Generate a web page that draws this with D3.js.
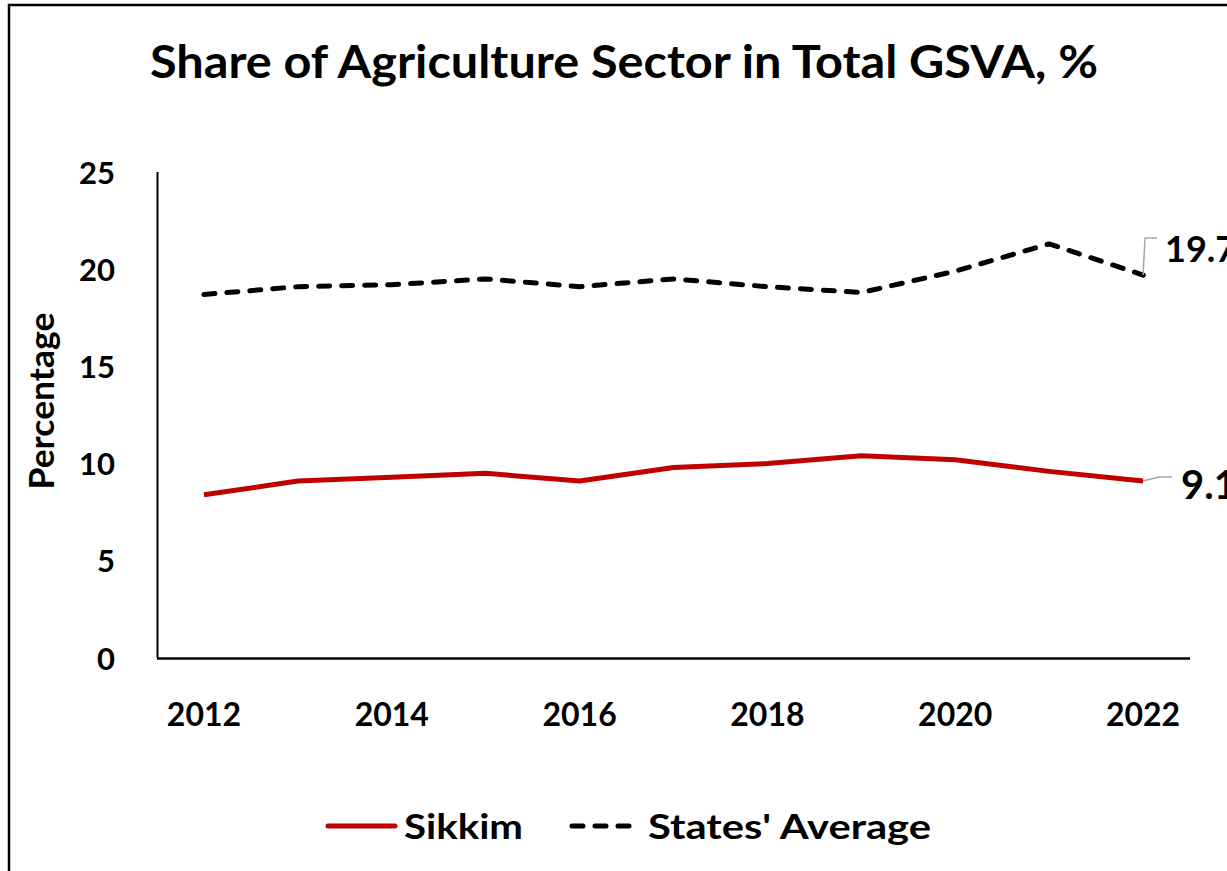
<!DOCTYPE html>
<html>
<head>
<meta charset="utf-8">
<script src="https://cdn.jsdelivr.net/npm/d3@7/dist/d3.min.js"></script>
<style>
  html, body { margin: 0; padding: 0; background: #fff; }
  svg text { font-family: Lato, "Open Sans", sans-serif; font-weight: 700; fill: #000; }
</style>
</head>
<body>
<svg id="chart" width="1227" height="871"></svg>
<script>
// Share of agriculture in total GSVA (%), 2012–2022
const years = [2012, 2013, 2014, 2015, 2016, 2017, 2018, 2019, 2020, 2021, 2022];
const sikkim = [8.4, 9.1, 9.3, 9.5, 9.1, 9.8, 10.0, 10.4, 10.2, 9.6, 9.1];
const statesAverage = [18.7, 19.1, 19.2, 19.5, 19.1, 19.5, 19.1, 18.8, 19.9, 21.3, 19.7];
const xTickLabels = [2012, 2014, 2016, 2018, 2020, 2022];
const yTickValues = [0, 5, 10, 15, 20, 25];
const seriesNames = ["Sikkim", "States' Average"];

const svg = d3.select("#chart");

// outer frame (left and top edges fall inside the view)
svg.append("rect")
  .attr("x", 9).attr("y", 5)
  .attr("width", 1400).attr("height", 1000)
  .attr("fill", "none").attr("stroke", "#000").attr("stroke-width", 2.5);

const plot = { left: 157, right: 1190, top: 172, bottom: 658 };

const x = d3.scaleBand().domain(years).range([plot.left, plot.right]);
const xc = d => x(d) + x.bandwidth() / 2;
const y = d3.scaleLinear().domain([0, 25]).range([plot.bottom, plot.top]);

// title
svg.append("text")
  .attr("x", 624).attr("y", 78)
  .attr("text-anchor", "middle")
  .style("font-size", "46px")
  .attr("textLength", 948).attr("lengthAdjust", "spacingAndGlyphs")
  .text("Share of Agriculture Sector in Total GSVA, %");

// y axis
const yAxis = svg.append("g")
  .attr("transform", `translate(${plot.left},0)`)
  .call(d3.axisLeft(y).tickValues(yTickValues).tickSize(0).tickPadding(42));
yAxis.select(".domain").attr("stroke", "#000").attr("stroke-width", 2).attr("d", `M0.5,${plot.top}V${plot.bottom}`);
yAxis.selectAll("text").style("font-size", "31px").style("font-family", "Lato").attr("dy", "0.36em");

// x axis
const xAxis = svg.append("g")
  .attr("transform", `translate(0,${plot.bottom})`)
  .call(d3.axisBottom(x).tickValues(xTickLabels).tickSize(0).tickPadding(45));
xAxis.select(".domain").attr("stroke", "#000").attr("stroke-width", 2.5).attr("d", `M${plot.left},0.5H${plot.right}`);
xAxis.selectAll("text").style("font-size", "32px").style("font-family", "Lato");

// y axis title
svg.append("text")
  .attr("transform", "translate(54,401) rotate(-90)")
  .attr("text-anchor", "middle")
  .style("font-size", "34px")
  .attr("textLength", 177).attr("lengthAdjust", "spacingAndGlyphs")
  .text("Percentage");

const line = d3.line()
  .x((d, i) => xc(years[i]))
  .y(d => y(d));

// States' average (dashed)
svg.append("path")
  .datum(statesAverage)
  .attr("d", line)
  .attr("fill", "none")
  .attr("stroke", "#000")
  .attr("stroke-width", 5)
  .attr("stroke-linecap", "round")
  .attr("stroke-linejoin", "round")
  .attr("stroke-dasharray", "11 12");

// Sikkim (solid red)
svg.append("path")
  .datum(sikkim)
  .attr("d", line)
  .attr("fill", "none")
  .attr("stroke", "#C00000")
  .attr("stroke-width", 5)
  .attr("stroke-linejoin", "round");

// end-point labels with leader lines
const lastYear = years[years.length - 1];
const lastAvg = statesAverage[statesAverage.length - 1];
const lastSik = sikkim[sikkim.length - 1];
const ex = xc(lastYear);

svg.append("circle").attr("cx", ex).attr("cy", y(lastAvg)).attr("r", 2.5).attr("fill", "#000");
svg.append("path")
  .attr("d", `M${ex},${y(lastAvg)} L${ex + 2},${y(lastAvg) - 37} H${ex + 14}`)
  .attr("fill", "none").attr("stroke", "#A6A6A6").attr("stroke-width", 1.5);
svg.append("text")
  .attr("x", ex + 22).attr("y", y(lastAvg) - 26)
  .attr("dy", "0.36em")
  .style("font-size", "36px")
  .text(d3.format(".1f")(lastAvg));

svg.append("path")
  .attr("d", `M${ex},${y(lastSik)} L${ex + 16},${y(lastSik) - 4} H${ex + 29}`)
  .attr("fill", "none").attr("stroke", "#A6A6A6").attr("stroke-width", 1.5);
svg.append("text")
  .attr("x", ex + 38).attr("y", y(lastSik) + 4)
  .attr("dy", "0.36em")
  .style("font-size", "40px")
  .text(d3.format(".1f")(lastSik));

// legend
const legendY = 826;
const legend = svg.append("g");
legend.append("line")
  .attr("x1", 328).attr("x2", 395).attr("y1", legendY).attr("y2", legendY)
  .attr("stroke", "#C00000").attr("stroke-width", 5).attr("stroke-linecap", "round");
legend.append("text")
  .attr("x", 404).attr("y", legendY).attr("dy", "0.36em")
  .style("font-size", "35px")
  .attr("textLength", 119).attr("lengthAdjust", "spacingAndGlyphs")
  .text(seriesNames[0]);
legend.append("line")
  .attr("x1", 572).attr("x2", 633).attr("y1", legendY).attr("y2", legendY)
  .attr("stroke", "#000").attr("stroke-width", 5).attr("stroke-linecap", "round")
  .attr("stroke-dasharray", "11 12");
legend.append("text")
  .attr("x", 648).attr("y", legendY).attr("dy", "0.36em")
  .style("font-size", "35px")
  .attr("textLength", 283).attr("lengthAdjust", "spacingAndGlyphs")
  .text(seriesNames[1]);
</script>
</body>
</html>
